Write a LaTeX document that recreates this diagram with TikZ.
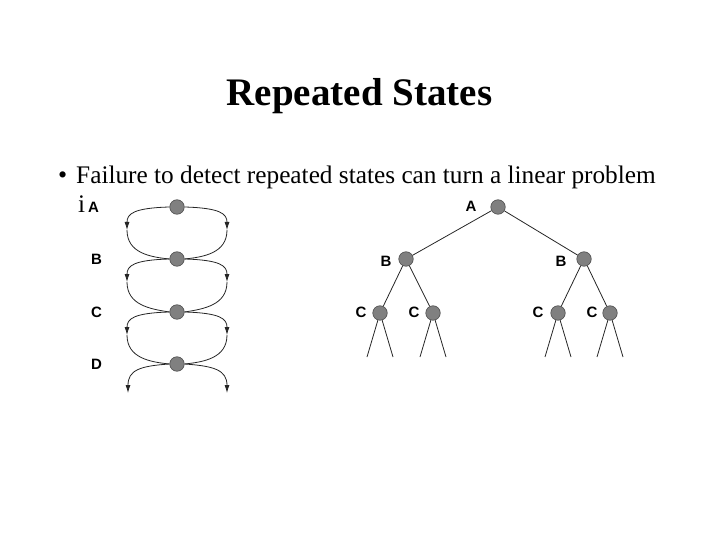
\documentclass[tikz,border=0pt]{standalone}
\usepackage{fontspec}
\setmainfont{Liberation Serif}
\newfontfamily\lblfont{Liberation Sans}
\usetikzlibrary{arrows.meta}
\begin{document}
\begin{tikzpicture}[x=1pt,y=-1pt,
  state/.style={circle,draw=black!70,line width=0.6pt,fill=black!50,minimum size=14.5pt,inner sep=0pt},
  lbl/.style={font=\lblfont\bfseries\fontsize{15}{15}\selectfont,inner sep=0pt},
  body/.style={font=\fontsize{25.3}{25.3}\selectfont,anchor=base west,inner sep=0pt},
  link/.style={line width=0.8pt,black!85},
  tip/.style={-{Latex[length=8pt,width=5pt]}}]
\useasboundingbox (0,0) rectangle (720,540);
% title
\node[font=\bfseries\fontsize{39}{39}\selectfont,anchor=base,inner sep=0pt] (title) at (359.5,106) {Repeated States};
% bullet text
\node[font=\fontsize{26}{26}\selectfont,anchor=base west,inner sep=0pt] (bul) at (58,184) {\textbullet};
\node[body] (l1) at (76,184) {Failure to detect repeated states can turn a linear problem};
\node[body] (l2) at (78,213) {i};
% left chain
\node[state] (A) at (177,207) {};
\node[state] (B) at (177,259) {};
\node[state] (C) at (177,312) {};
\node[state] (D) at (177,364) {};
\node[lbl,anchor=west] (la) at (88,207) {A};
\node[lbl,anchor=west] (lb) at (91,259) {B};
\node[lbl,anchor=west] (lc) at (91,312) {C};
\node[lbl,anchor=west] (ld) at (91,364) {D};
\foreach \u/\v/\y in {A/B/207,B/C/259,C/D/312}{
  \coordinate (L\u) at (127,\y+23);
  \coordinate (R\u) at (227,\y+23);
  \draw[link,tip] (\u.west) .. controls (133,\y+1) and (127,\y+7) .. (L\u);
  \draw[link] (L\u) .. controls (127,\y+46) and (150,\y+50) .. (\v.west);
  \draw[link,tip] (\u.east) .. controls (221,\y+1) and (227,\y+7) .. (R\u);
  \draw[link] (R\u) .. controls (227,\y+46) and (204,\y+50) .. (\v.east);
}
\coordinate (LD) at (128,393);
\coordinate (RD) at (227,393);
\draw[link,tip] (D.west) .. controls (140,366) and (128,370) .. (LD);
\draw[link,tip] (D.east) .. controls (214,366) and (227,370) .. (RD);
% right tree
\node[state] (tA) at (498,207) {};
\node[state] (tB1) at (406,259) {};
\node[state] (tB2) at (584,259) {};
\node[state] (tC1) at (380,313) {};
\node[state] (tC2) at (433,313) {};
\node[state] (tC3) at (558,313) {};
\node[state] (tC4) at (610,313) {};
\node[lbl] (ta) at (471,206) {A};
\node[lbl] (tb1) at (386,261) {B};
\node[lbl] (tb2) at (561,261) {B};
\node[lbl] (tc1) at (361,312) {C};
\node[lbl] (tc2) at (414,312) {C};
\node[lbl] (tc3) at (538,312) {C};
\node[lbl] (tc4) at (592,312) {C};
\draw[link] (tA) -- (tB1);
\draw[link] (tA) -- (tB2);
\draw[link] (tB1) -- (tC1);
\draw[link] (tB1) -- (tC2);
\draw[link] (tB2) -- (tC3);
\draw[link] (tB2) -- (tC4);
\foreach \n/\x in {1/380,2/433,3/558,4/610}{
  \coordinate (a\n) at (\x-13,357);
  \coordinate (b\n) at (\x+13,357);
  \draw[link] (tC\n) -- (a\n);
  \draw[link] (tC\n) -- (b\n);
}
\end{tikzpicture}
\end{document}
